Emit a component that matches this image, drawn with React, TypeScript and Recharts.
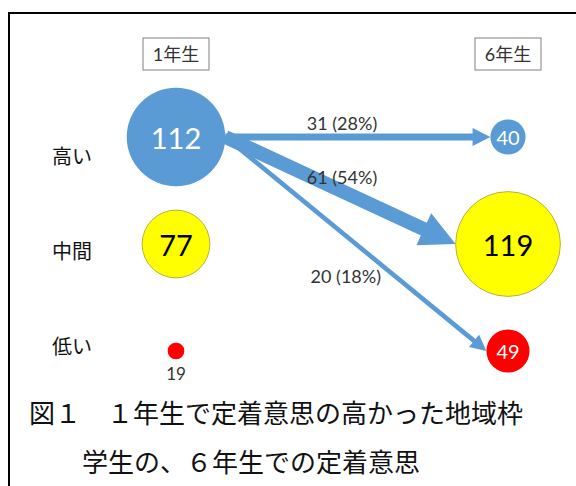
import { ScatterChart, Scatter, XAxis, YAxis, ReferenceLine } from "recharts";

const levels = ["高い", "中間", "低い"];
const yearLabels = ["1年生", "6年生"];
const firstYear = [112, 77, 19];
const sixthYear = [40, 119, 49];
// flows out of the 1st-year "高い" group into each 6th-year level
const flowCounts = [31, 61, 20];
const flowShares = [28, 54, 18];
const caption = ["図１　１年生で定着意思の高かった地域枠", "学生の、６年生での定着意思"];

const fills = ["#5b9bd5", "#ffff00", "#ff0000"];
const textFills = ["#ffffff", "#000000", "#ffffff"];
const ARROW = "#5b9bd5";
const NUM_FONT = "Lato, 'Noto Sans CJK JP', sans-serif";
const JP_FONT = "'Noto Sans CJK JP', sans-serif";

const radius = (v: number) => v * 0.44;

const points = [
  ...firstYear.map((value, i) => ({ col: 0, row: 2 - i, value, level: i })),
  ...sixthYear.map((value, i) => ({ col: 1, row: 2 - i, value, level: i })),
];
const labelRows = levels.map((name, i) => ({ col: 0, row: 2 - i, name }));

function Bubble(props: any) {
  const { cx, cy, payload } = props;
  const r = radius(payload.value);
  const small = r < 12;
  return (
    <g>
      <circle
        cx={cx}
        cy={cy}
        r={r}
        fill={fills[payload.level]}
        stroke={payload.level === 1 ? "#b3b340" : "none"}
        strokeWidth={1}
      />
      <text
        x={cx}
        y={small ? cy + r + 14 : cy}
        textAnchor="middle"
        dominantBaseline="central"
        fontFamily={NUM_FONT}
        fontSize={small ? 17 : r > 30 ? 29 : 20}
        fill={small ? "#333" : textFills[payload.level]}
      >
        {payload.value}
      </text>
    </g>
  );
}

function YearTick(props: any) {
  const { x, y, payload } = props;
  return (
    <g>
      <rect x={x - 33} y={y - 16} width={66} height={32} fill="#fff" stroke="#808080" strokeWidth={1} />
      <text x={x} y={y} textAnchor="middle" dominantBaseline="central" fontFamily={NUM_FONT} fontSize={18} fill="#333">
        {yearLabels[payload.value]}
      </text>
    </g>
  );
}

function flowArrow(i: number) {
  return (p: any) => {
    const sx = p.x1 + radius(firstYear[0]);
    const sy = p.y1;
    const ex = p.x2 - radius(sixthYear[i]);
    const ey = p.y2;
    const dx = ex - sx;
    const dy = ey - sy;
    const len = Math.sqrt(dx * dx + dy * dy);
    const ux = dx / len;
    const uy = dy / len;
    const nx = -uy;
    const ny = ux;
    const w = flowCounts[i] * 0.23;
    const W = Math.max(16, w * 2.5);
    const L = W;
    const bx = ex - ux * L;
    const by = ey - uy * L;
    const pts = [
      [sx + (nx * w) / 2, sy + (ny * w) / 2],
      [bx + (nx * w) / 2, by + (ny * w) / 2],
      [bx + (nx * W) / 2, by + (ny * W) / 2],
      [ex, ey],
      [bx - (nx * W) / 2, by - (ny * W) / 2],
      [bx - (nx * w) / 2, by - (ny * w) / 2],
      [sx - (nx * w) / 2, sy - (ny * w) / 2],
    ]
      .map((q) => q.join(","))
      .join(" ");

    // label sits above the arrow at the mid column, steep ones get it on the left side
    const steep = dy / dx > 0.6;
    const midX = (p.x1 + p.x2) / 2;
    let lx = midX;
    let ly = sy + ((midX - sx) * dy) / dx - 14;
    let anchor: "middle" | "end" = "middle";
    if (steep) {
      const t = 0.65;
      lx = sx + dx * t - 14;
      ly = sy + dy * t;
      anchor = "end";
    }
    return (
      <g>
        <polygon points={pts} fill={ARROW} />
        <text x={lx} y={ly} textAnchor={anchor} dominantBaseline="central" fontFamily={NUM_FONT} fontSize={18} fill="#333">
          {`${flowCounts[i]} (${flowShares[i]}%)`}
        </text>
      </g>
    );
  };
}

export default function App() {
  return (
    <div style={{ position: "absolute", left: 0, top: 0, width: 576, height: 486, background: "#fff", overflow: "hidden" }}>
      <div
        style={{
          position: "absolute",
          left: 8,
          top: 12,
          width: 620,
          height: 520,
          borderLeft: "2px solid #000",
          borderTop: "2px solid #000",
        }}
      />
      <div style={{ position: "absolute", left: 0, top: 0 }}>
        <ScatterChart width={576} height={486} margin={{ top: 97, right: 68, bottom: 135, left: 50 }}>
          <XAxis
            type="number"
            dataKey="col"
            domain={[0, 1]}
            ticks={[0, 1]}
            interval={0}
            orientation="top"
            height={40}
            axisLine={false}
            tickLine={false}
            tickSize={0}
            tickMargin={83}
            tick={<YearTick />}
          />
          <YAxis yAxisId="rows" type="number" dataKey="row" domain={[0, 2]} hide />
          <YAxis
            yAxisId="labels"
            type="number"
            dataKey="row"
            domain={[-0.04, 2.21]}
            ticks={[0, 1, 2]}
            interval={0}
            width={126}
            axisLine={false}
            tickLine={false}
            tickSize={0}
            tickMargin={84}
            tickFormatter={(v: number) => levels[2 - v]}
            tick={{ fontSize: 20, fill: "#111", fontFamily: JP_FONT }}
          />
          {flowCounts.map((_, i) => (
            <ReferenceLine
              key={i}
              yAxisId="rows"
              segment={[
                { x: 0, y: 2 },
                { x: 1, y: 2 - i },
              ]}
              ifOverflow="visible"
              shape={flowArrow(i)}
            />
          ))}
          <Scatter data={labelRows} yAxisId="labels" shape={() => <g />} isAnimationActive={false} />
          <Scatter data={points} yAxisId="rows" shape={<Bubble />} isAnimationActive={false} />
        </ScatterChart>
      </div>
      {caption.map((line, i) => (
        <div
          key={i}
          style={{
            position: "absolute",
            left: i === 0 ? 29 : 82,
            top: i === 0 ? 398 : 447,
            fontFamily: JP_FONT,
            fontSize: 26,
            lineHeight: "28px",
            color: "#111",
            whiteSpace: "nowrap",
          }}
        >
          {line}
        </div>
      ))}
    </div>
  );
}
